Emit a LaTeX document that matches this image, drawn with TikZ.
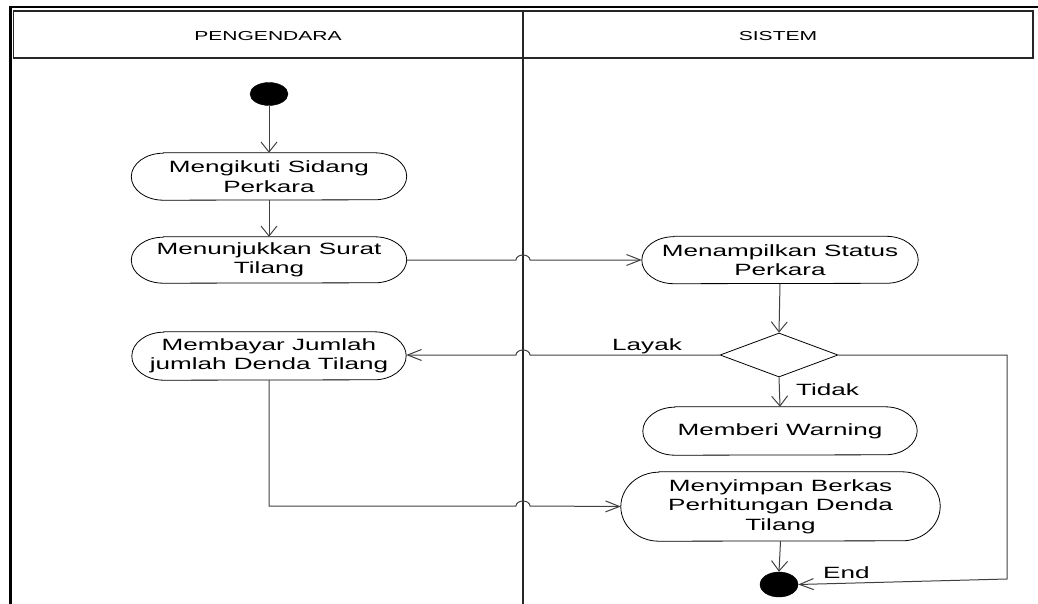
\documentclass[tikz,border=0pt]{standalone}
\usepackage{fontspec}
\setmainfont{Liberation Sans}
\newfontfamily\nodefont[FakeStretch=1.6]{Liberation Sans}
\newfontfamily\headfont[FakeStretch=1.62]{Liberation Sans}
\usetikzlibrary{arrows.meta,shapes.geometric}

\newcommand\capsule[3]{%
  \draw[nodeline] ([xshift=#2]#1.north west) -- ([xshift=-#2]#1.north east)
    arc[start angle=90,end angle=-90,x radius=#2,y radius=#3]
    -- ([xshift=#2]#1.south west)
    arc[start angle=270,end angle=90,x radius=#2,y radius=#3] -- cycle;}

\tikzset{
  nodeline/.style={draw=black,line width=0.8pt},
  act/.style={inner sep=0pt,align=center,font=\nodefont\fontsize{16.3}{19.5}\selectfont},
  lbl/.style={inner sep=0pt,anchor=base west,font=\nodefont\fontsize{16.3}{19.5}\selectfont},
  head/.style={inner sep=0pt,font=\headfont\fontsize{13}{15}\selectfont},
  blob/.style={ellipse,fill=black,draw=black,inner sep=0pt},
  conn/.style={draw=black!75,line width=1pt},
  harr/.style={conn,-{Straight Barb[length=14pt,width=11pt]}},
  varr/.style={conn,-{Straight Barb[length=10pt,width=16pt]}},
}

\begin{document}
\begin{tikzpicture}[x=1pt,y=-1pt]
\useasboundingbox (0,0) rectangle (1038,604);

% frame
\draw[line width=2.8pt] (10.5,604) -- (10.5,7) -- (1038,7);
\draw[line width=1.2pt,black!85] (13.5,11) rectangle (1033,58);
\draw[line width=1.2pt,black!85] (523,11) -- (523,604);
\node[head] (hA) at (268,36) {PENGENDARA};
\node[head] (hB) at (778,36) {SISTEM};

% nodes
\node[blob,minimum width=38pt,minimum height=23pt] (start) at (269,94) {};
\node[act,minimum width=275pt,minimum height=47pt] (n1) at (269,176.5) {Mengikuti Sidang\\Perkara};
\capsule{n1}{32pt}{23.5pt}
\node[act,minimum width=275pt,minimum height=46pt] (n2) at (269,260) {Menunjukkan Surat\\Tilang};
\capsule{n2}{32pt}{23pt}
\node[act,minimum width=276pt,minimum height=47pt] (n3) at (780,260) {Menampilkan Status\\Perkara};
\capsule{n3}{32pt}{23.5pt}
\node[diamond,draw=black,line width=0.8pt,minimum width=118pt,minimum height=44pt,inner sep=0pt] (d) at (779,355) {};
\node[act,minimum width=274pt,minimum height=48pt] (n4) at (269,356) {Membayar Jumlah\\jumlah Denda Tilang};
\capsule{n4}{32pt}{24pt}
\node[act,minimum width=274pt,minimum height=48pt] (n5) at (780,431) {Memberi Warning};
\capsule{n5}{32pt}{24pt}
\node[act,minimum width=319pt,minimum height=69pt] (n6) at (780.5,506.5) {Menyimpan Berkas\\Perhitungan Denda\\Tilang};
\capsule{n6}{38pt}{34.5pt}
\node[blob,minimum width=38pt,minimum height=25pt] (end) at (779,584.5) {};

% connectors
\draw[varr] (start.south) -- (n1.north);
\draw[varr] (n1.south) -- (n2.north);
\draw[harr] (n2.east) -- (516,260) arc[start angle=180,end angle=0,x radius=7pt,y radius=5pt] -- (n3.west);
\draw[varr] (n3.south) -- (d.north);
\draw[harr] (d.west) -- (530,355) arc[start angle=0,end angle=180,x radius=7pt,y radius=5pt] -- (n4.east |- d.west);
\draw[varr] (d.south) -- (n5.north);
\coordinate (r1) at (1007,355);
\coordinate (r2) at (1007,579);
\draw[harr] (d.east) -- (r1) -- (r2) -- (end.east);
\coordinate (b1) at (269,506);
\draw[harr] (n4.south) -- (b1) -- (516,506) arc[start angle=180,end angle=0,x radius=7pt,y radius=5pt] -- (n6.west);
\draw[varr] (n6.south) -- (end.north);

% labels
\node[lbl] (lLayak) at (612,350) {Layak};
\node[lbl] (lTidak) at (796,395) {Tidak};
\node[lbl] (lEnd) at (823,578) {End};
\end{tikzpicture}
\end{document}
